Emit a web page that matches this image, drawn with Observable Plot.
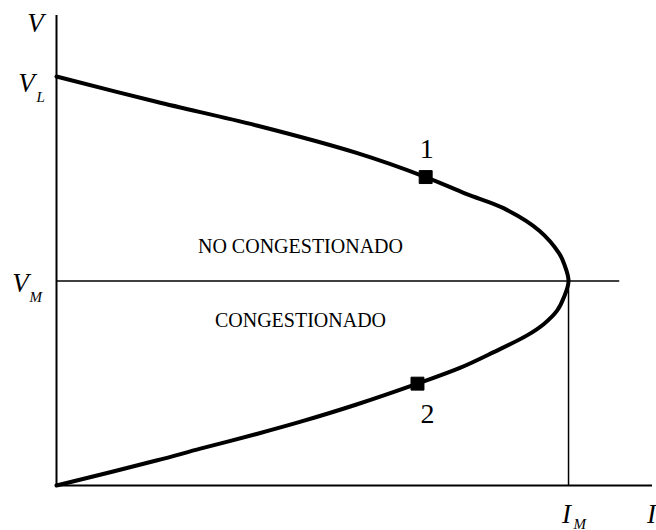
<!DOCTYPE html>
<html>
<head>
<meta charset="utf-8">
<script src="https://cdn.jsdelivr.net/npm/d3@7"></script>
<script src="https://cdn.jsdelivr.net/npm/@observablehq/plot@0.6"></script>
<style>
  html, body { margin: 0; padding: 0; background: #fff; }
  svg { display: block; }
  svg text { font-family: "Liberation Serif", "DejaVu Serif", "Times New Roman", Times, serif; }
</style>
</head>
<body>
<div id="chart"></div>
<script>
// Speed (V) vs flow (I) curve (I_M = 100, V_L = 100)
const upperI = [0, 19.5, 39.1, 58.6, 72.1, 80.0, 87.3, 94.3, 98.2, 99.1, 100];
const upperV = [100, 93.8, 88.0, 81.3, 75.4, 71.3, 67.8, 62.3, 56.7, 54.3, 50];
const lowerI = [99.1, 97.8, 95.2, 91.9, 85.4, 78.9, 70.5, 58.6, 47.7, 39.1, 28.1, 19.5, 0];
const lowerV = [46.0, 42.8, 39.5, 36.7, 32.6, 28.8, 24.9, 19.8, 15.6, 12.6, 9.0, 6.1, 0];

const markerNames = ["1", "2"];
const markerI = [72.1, 70.5];
const markerV = [75.4, 24.9];

const V_L = 100, V_M = 50, I_M = 100;
const I_MAX = 116.4, V_MAX = 114.9, I_LINE_END = 110;

const regionLabels = ["NO CONGESTIONADO", "CONGESTIONADO"];

const curve = [
  ...upperI.map((d, i) => ({I: d, V: upperV[i]})),
  ...lowerI.map((d, i) => ({I: d, V: lowerV[i]}))
];
const markers = markerNames.map((n, i) => ({name: n, I: markerI[i], V: markerV[i]}));

const serif = "Liberation Serif, DejaVu Serif, Times New Roman, serif";
const big = 27;
const sub = 15;

const chart = Plot.plot({
  width: 656,
  height: 530,
  marginLeft: 56,
  marginRight: 4,
  marginTop: 15,
  marginBottom: 45,
  x: {domain: [0, I_MAX], axis: null},
  y: {domain: [0, V_MAX], axis: null},
  style: {fontFamily: serif, background: "white", color: "black"},
  marks: [
    // axes
    Plot.ruleX([0], {y1: 0, y2: V_MAX, stroke: "black", strokeWidth: 2}),
    Plot.ruleY([0], {x1: 0, x2: I_MAX, stroke: "black", strokeWidth: 2}),
    // V_M horizontal and I_M vertical
    Plot.ruleY([V_M], {x1: 0, x2: I_LINE_END, stroke: "black", strokeWidth: 1.5}),
    Plot.ruleX([I_M], {y1: 0, y2: V_M, stroke: "black", strokeWidth: 1.5}),
    // curve
    Plot.line(curve, {x: "I", y: "V", curve: "catmull-rom", stroke: "black", strokeWidth: 4, strokeLinejoin: "round"}),
    // markers
    Plot.dot(markers, {x: "I", y: "V", symbol: "square", r: 7.3, fill: "black", stroke: "black", strokeWidth: 1, strokeLinejoin: "round"}),
    Plot.text([markers[0]], {x: "I", y: "V", text: "name", dx: 1, dy: -19, lineAnchor: "bottom", fontSize: 28, fill: "black"}),
    Plot.text([markers[1]], {x: "I", y: "V", text: "name", dx: 10, dy: 39, lineAnchor: "bottom", fontSize: 28, fill: "black"}),
    // region labels
    Plot.text([regionLabels[0]], {x: 47.65, y: V_M, text: d => d, dy: -28, lineAnchor: "bottom", fontSize: 20, fill: "black"}),
    Plot.text([regionLabels[1]], {x: 47.65, y: V_M, text: d => d, dy: 46, lineAnchor: "bottom", fontSize: 20, fill: "black"}),
    // axis letter labels
    Plot.text(["V"], {x: 0, y: V_MAX, text: d => d, dx: -21, dy: 16, lineAnchor: "bottom", fontSize: big, fontStyle: "italic", fill: "black"}),
    Plot.text(["V"], {x: 0, y: V_L, text: d => d, dx: -30, dy: 16, lineAnchor: "bottom", fontSize: big, fontStyle: "italic", fill: "black"}),
    Plot.text(["L"], {x: 0, y: V_L, text: d => d, dx: -20, dy: 26, textAnchor: "start", lineAnchor: "bottom", fontSize: sub, fontStyle: "italic", fill: "black"}),
    Plot.text(["V"], {x: 0, y: V_M, text: d => d, dx: -36, dy: 11, lineAnchor: "bottom", fontSize: big, fontStyle: "italic", fill: "black"}),
    Plot.text(["M"], {x: 0, y: V_M, text: d => d, dx: -27, dy: 21, textAnchor: "start", lineAnchor: "bottom", fontSize: sub, fontStyle: "italic", fill: "black"}),
    Plot.text(["I"], {x: I_M, y: 0, text: d => d, dx: -2, dy: 37, lineAnchor: "bottom", fontSize: big, fontStyle: "italic", fill: "black"}),
    Plot.text(["M"], {x: I_M, y: 0, text: d => d, dx: 5, dy: 43, textAnchor: "start", lineAnchor: "bottom", fontSize: sub, fontStyle: "italic", fill: "black"}),
    Plot.text(["I"], {x: I_MAX, y: 0, text: d => d, dx: -1, dy: 37, lineAnchor: "bottom", fontSize: big, fontStyle: "italic", fill: "black"})
  ]
});
document.getElementById("chart").appendChild(chart);
</script>
</body>
</html>
